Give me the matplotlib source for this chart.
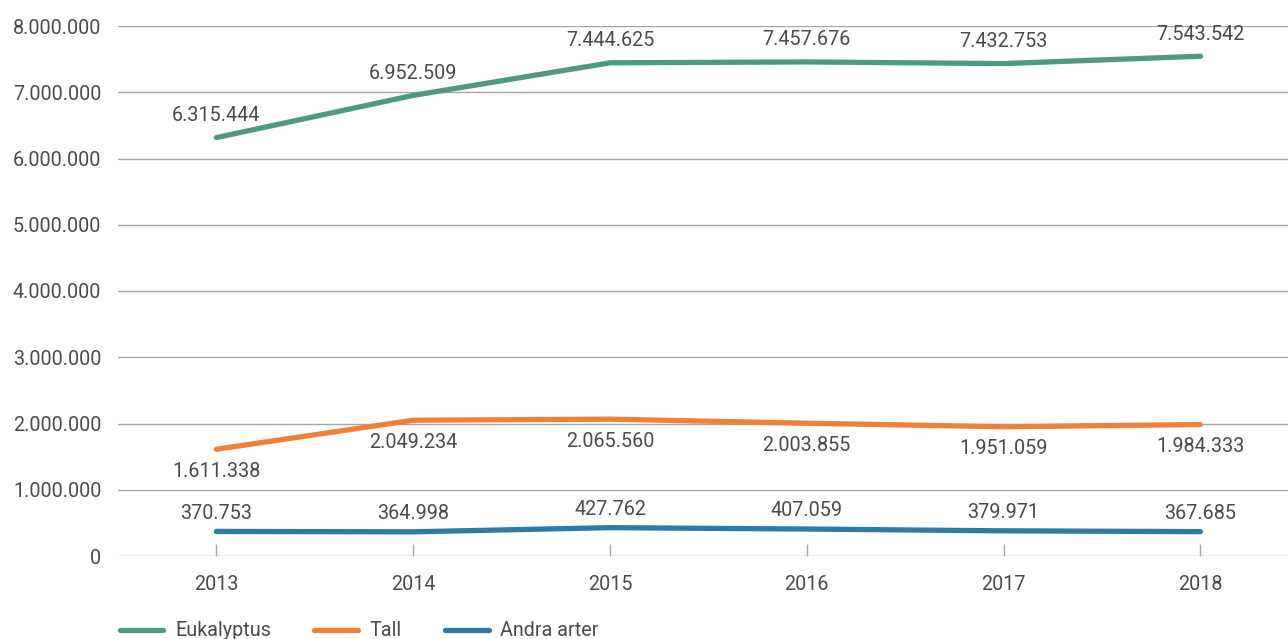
import matplotlib
matplotlib.use("Agg")
import matplotlib.pyplot as plt
from matplotlib.lines import Line2D

plt.rcParams['font.family'] = ['Roboto', 'DejaVu Sans']

years = ["2013", "2014", "2015", "2016", "2017", "2018"]
eukalyptus = [6315444, 6952509, 7444625, 7457676, 7432753, 7543542]
tall = [1611338, 2049234, 2065560, 2003855, 1951059, 1984333]
andra = [370753, 364998, 427762, 407059, 379971, 367685]
series_names = ["Eukalyptus", "Tall", "Andra arter"]
y_ticks = [0, 1000000, 2000000, 3000000, 4000000, 5000000, 6000000, 7000000, 8000000]

colors = ["#4E9A7E", "#F07F3A", "#2E7BA5"]
text_color = "#4A4A4A"
fs = 14.2

def fmt(v):
    return f"{v:,}".replace(",", ".")

W, H = 1288, 639
fig = plt.figure(figsize=(W / 100, H / 100), dpi=100)
ax = fig.add_axes([118 / W, 1 - 556 / H, (W - 118) / W, (556 - 26) / H])

x = list(range(len(years)))
data = [eukalyptus, tall, andra]
offsets = [16, -16, 13]
for vals, col, name, off in zip(data, colors, series_names, offsets):
    ax.plot(x, vals, color=col, lw=3.8, solid_capstyle='round', label=name, zorder=3)
    for xi, v in zip(x, vals):
        ax.annotate(fmt(v), (xi, v), xytext=(0, off), textcoords='offset points',
                    ha='center', va='center', fontsize=fs, color=text_color)

ax.set_xlim(-0.5, -0.5 + (W - 118) / 196.8)
ax.set_ylim(0, 8000000)
ax.set_yticks(y_ticks)
ax.set_yticklabels([fmt(v) for v in y_ticks])
ax.set_xticks(x)
ax.set_xticklabels(years)
for s in ax.spines.values():
    s.set_visible(False)
ax.grid(axis='y', color='#A6A6A6', lw=1.0)
ax.set_axisbelow(True)
ax.tick_params(axis='y', length=0, pad=12, labelsize=fs, labelcolor=text_color)
ax.tick_params(axis='x', direction='in', length=9, width=1, color='#A6A6A6', pad=14,
               labelsize=fs, labelcolor=text_color)

handles = [Line2D([0], [0], color=c, lw=3.8, solid_capstyle='round') for c in colors]
fig.legend(handles, series_names, loc='center left', bbox_to_anchor=(120 / W, 1 - 631 / H),
           ncol=3, frameon=False, fontsize=fs, handlelength=2.2, handletextpad=0.6,
           columnspacing=2.2, labelcolor=text_color, borderaxespad=0, borderpad=0)

fig.savefig("out.png", dpi=100)
